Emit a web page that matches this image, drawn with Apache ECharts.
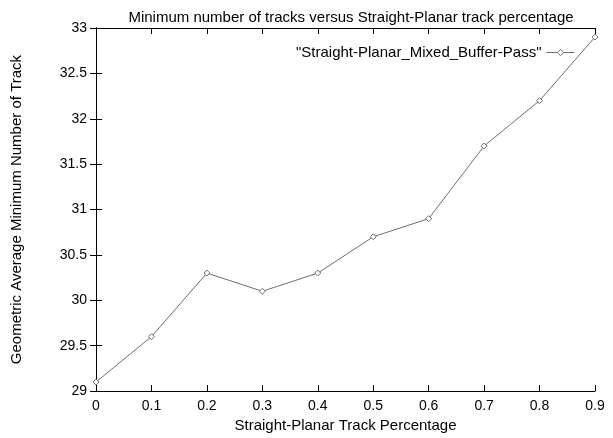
<!DOCTYPE html>
<html><head><meta charset="utf-8">
<script src="https://cdn.jsdelivr.net/npm/echarts@6/dist/echarts.min.js"></script>
<style>html,body{margin:0;padding:0;background:#fff}#c{width:613px;height:438px}</style>
</head><body><div id="c"></div>
<script>
var xValues = [0, 0.1, 0.2, 0.3, 0.4, 0.5, 0.6, 0.7, 0.8, 0.9];
var yValues = [29.1, 29.6, 30.3, 30.1, 30.3, 30.7, 30.9, 31.7, 32.2, 32.9];
var seriesName = '"Straight-Planar_Mixed_Buffer-Pass"';
var titleText = 'Minimum number of tracks versus Straight-Planar track percentage';
var xTitle = 'Straight-Planar Track Percentage';
var yTitle = 'Geometric Average Minimum Number of Track';

var font = 'Liberation Sans, Arial, sans-serif';
var chart = echarts.init(document.getElementById('c'));
var data = xValues.map(function (x, i) { return [x, yValues[i]]; });
var axisLine = { show: true, lineStyle: { color: '#000', width: 1 } };
var tick = { show: true, inside: true, length: 6, lineStyle: { color: '#000' } };
chart.setOption({
  animation: false,
  title: { text: titleText, left: 346, top: 5, textAlign: 'center',
    textStyle: { fontFamily: font, fontSize: 15, fontWeight: 'normal', color: '#000' } },
  legend: { show: true, right: 33, top: 40, itemWidth: 28, itemHeight: 8, itemGap: 0,
    align: 'right',
    lineStyle: { width: 1, color: '#6e6e6e' },
    itemStyle: { color: '#fff', borderColor: '#6e6e6e', borderWidth: 1 },
    textStyle: { fontFamily: font, fontSize: 15, color: '#000' },
    data: [seriesName] },
  grid: { left: 96, right: 18, top: 28, bottom: 41 },
  xAxis: [{
    type: 'value', min: 0, max: 0.9, interval: 0.1, position: 'bottom',
    name: xTitle, nameLocation: 'middle', nameGap: 24,
    nameTextStyle: { fontFamily: font, fontSize: 15, color: '#000' },
    axisLine: axisLine, axisTick: tick, splitLine: { show: false },
    axisLabel: { fontFamily: font, fontSize: 14, color: '#000', margin: 8,
      formatter: function (v) { return String(Math.round(v * 10) / 10); } }
  }, {
    type: 'value', min: 0, max: 0.9, interval: 0.1, position: 'top',
    axisLine: axisLine, axisTick: tick, axisLabel: { show: false }, splitLine: { show: false }
  }],
  yAxis: [{
    type: 'value', min: 29, max: 33, interval: 0.5, position: 'left',
    name: yTitle, nameLocation: 'middle', nameGap: 72, nameRotate: 90,
    nameTextStyle: { fontFamily: font, fontSize: 15, color: '#000' },
    axisLine: axisLine, axisTick: tick, splitLine: { show: false },
    axisLabel: { fontFamily: font, fontSize: 14, color: '#000', margin: 9 }
  }, {
    type: 'value', min: 29, max: 33, interval: 0.5, position: 'right',
    axisLine: axisLine, axisTick: tick, axisLabel: { show: false }, splitLine: { show: false }
  }],
  series: [{
    name: seriesName, type: 'line', data: data,
    symbol: 'diamond', symbolSize: 6, showSymbol: true,
    lineStyle: { color: '#6e6e6e', width: 1 },
    itemStyle: { color: '#fff', borderColor: '#6e6e6e', borderWidth: 1 }
  }]
});
</script></body></html>
